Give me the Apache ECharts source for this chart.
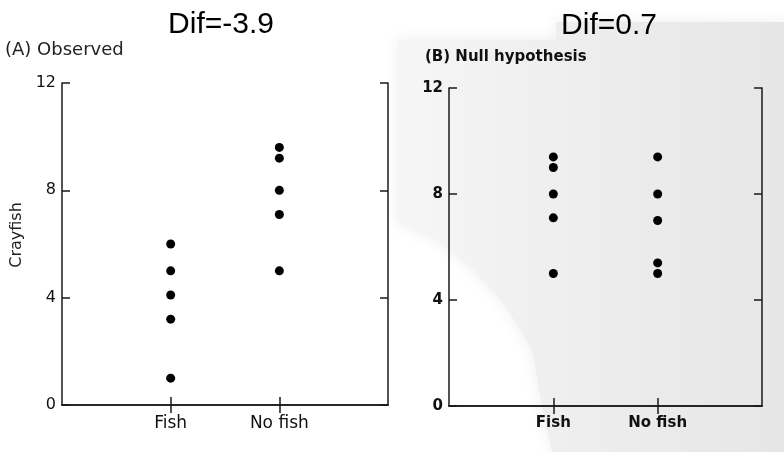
<!DOCTYPE html>
<html>
<head>
<meta charset="utf-8">
<script src="https://cdn.jsdelivr.net/npm/echarts@6/dist/echarts.min.js"></script>
<style>
  html, body { margin: 0; padding: 0; background: #fff; }
  #chart { width: 784px; height: 452px; }
</style>
</head>
<body>
<div id="chart"></div>
<script>
// categories (blank ends keep the groups at 1/3 and 2/3 of the box)
var categories = ["", "Fish", "No fish", ""];

// (A) observed crayfish counts
var obsFish = [6, 5, 4.1, 3.2, 1];
var obsNoFish = [9.6, 9.2, 8, 7.1, 5];

// (B) one shuffle under the null hypothesis
var nullFish = [9.4, 9.0, 8, 7.1, 5];
var nullNoFish = [9.4, 8, 7, 5.4, 5];

var yMin = 0, yMax = 12, yStep = 4;

var titleA = "(A) Observed";
var titleB = "(B) Null hypothesis";
var difA = "Dif=-3.9";
var difB = "Dif=0.7";
var yName = "Crayfish";

var lineColor = "#1a1a1a";

function pairs(cat, arr) {
  return arr.map(function (v) { return [cat, v]; });
}

function xAx(grid, pos, bold) {
  return {
    type: "category",
    gridIndex: grid,
    position: pos,
    data: categories,
    boundaryGap: false,
    axisLine: { show: true, lineStyle: { color: lineColor, width: 1.5 } },
    axisTick: {
      show: true,
      inside: true,
      length: 8,
      interval: function (i, v) { return v !== ""; },
      lineStyle: { color: lineColor, width: 1.5 }
    },
    axisLabel: {
      show: pos === "bottom",
      interval: 0,
      margin: 10,
      color: "#111",
      fontFamily: "DejaVu Sans",
      fontSize: bold ? 15 : 17,
      fontWeight: bold ? "bold" : "normal"
    },
    splitLine: { show: false }
  };
}

function yAx(grid, pos, bold) {
  return {
    type: "value",
    gridIndex: grid,
    position: pos,
    min: yMin,
    max: yMax,
    interval: yStep,
    axisLine: { show: true, lineStyle: { color: lineColor, width: 1.5 } },
    axisTick: { show: true, inside: true, length: 8, lineStyle: { color: lineColor, width: 1.5 } },
    axisLabel: {
      show: pos === "left",
      margin: 6,
      color: "#111",
      fontFamily: "DejaVu Sans",
      fontSize: bold ? 15 : 16,
      fontWeight: bold ? "bold" : "normal"
    },
    splitLine: { show: false }
  };
}

function dots(xi, yi, data) {
  return {
    type: "scatter",
    xAxisIndex: xi,
    yAxisIndex: yi,
    data: data,
    symbol: "circle",
    symbolSize: 9,
    itemStyle: { color: "#000", opacity: 1 },
    silent: true
  };
}

var option = {
  backgroundColor: "#fff",
  animation: false,
  grid: [
    { left: 62, top: 83, width: 326, height: 322 },
    { left: 449, top: 88, width: 313, height: 318 }
  ],
  xAxis: [
    xAx(0, "bottom", false),
    xAx(0, "top", false),
    xAx(1, "bottom", true),
    xAx(1, "top", true)
  ],
  yAxis: [
    yAx(0, "left", false),
    yAx(0, "right", false),
    yAx(1, "left", true),
    yAx(1, "right", true)
  ],
  series: [
    dots(0, 0, pairs("Fish", obsFish)),
    dots(0, 0, pairs("No fish", obsNoFish)),
    dots(2, 2, pairs("Fish", nullFish)),
    dots(2, 2, pairs("No fish", nullNoFish))
  ],
  graphic: [
    // scanned page shading behind panel B
    {
      type: "polygon",
      z: -10,
      silent: true,
      shape: {
        points: [[398, 40], [556, 40], [556, 22], [784, 22], [784, 452], [552, 452],
                 [542, 405], [532, 350], [505, 305], [472, 268], [435, 238], [398, 222]]
      },
      style: {
        fill: {
          type: "linear", x: 0, y: 0, x2: 1, y2: 0,
          colorStops: [
            { offset: 0, color: "#f6f6f6" },
            { offset: 0.45, color: "#eeeeee" },
            { offset: 1, color: "#e6e6e6" }
          ]
        },
        shadowBlur: 14,
        shadowColor: "#eeeeee"
      }
    },
    {
      type: "text", x: 221, y: 25, silent: true,
      style: { text: difA, textAlign: "center", textVerticalAlign: "middle",
               fontFamily: "Liberation Sans, Arial", fontSize: 30, fill: "#000" }
    },
    {
      type: "text", x: 609, y: 26, silent: true,
      style: { text: difB, textAlign: "center", textVerticalAlign: "middle",
               fontFamily: "Liberation Sans, Arial", fontSize: 30, fill: "#000" }
    },
    {
      type: "text", x: 5, y: 50, silent: true,
      style: { text: titleA, textAlign: "left", textVerticalAlign: "middle",
               fontFamily: "DejaVu Sans", fontSize: 18, fill: "#222" }
    },
    {
      type: "text", x: 425, y: 57, silent: true,
      style: { text: titleB, textAlign: "left", textVerticalAlign: "middle",
               fontFamily: "DejaVu Sans", fontWeight: "bold", fontSize: 15, fill: "#111" }
    },
    {
      type: "text", x: 17, y: 235, rotation: Math.PI / 2, silent: true,
      style: { text: yName, textAlign: "center", textVerticalAlign: "middle",
               fontFamily: "DejaVu Sans", fontSize: 16, fill: "#222" }
    }
  ]
};

var myChart = echarts.init(document.getElementById("chart"));
myChart.setOption(option);
window.addEventListener("resize", function () {
  myChart.resize();
});
</script>
</body>
</html>
